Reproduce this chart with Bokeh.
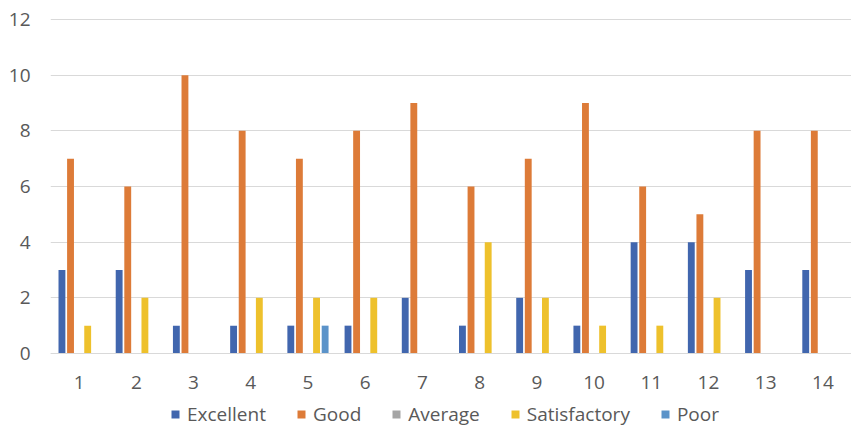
from bokeh.plotting import figure
from bokeh.models import (ColumnDataSource, FactorRange, Range1d, Legend, LegendItem,
                          FixedTicker, CategoricalAxis)
from bokeh.transform import dodge
from bokeh.embed import file_html
from bokeh.resources import INLINE

categories = [str(i) for i in range(1, 15)]
excellent = [3, 3, 1, 1, 1, 1, 2, 1, 2, 1, 4, 4, 3, 3]
good = [7, 6, 10, 8, 7, 8, 9, 6, 7, 9, 6, 5, 8, 8]
average = [0] * 14
satisfactory = [1, 2, 0, 2, 2, 2, 0, 4, 2, 1, 1, 2, 0, 0]
poor = [0, 0, 0, 0, 1, 0, 0, 0, 0, 0, 0, 0, 0, 0]
y_ticks = [0, 2, 4, 6, 8, 10, 12]

series = [
    ("Excellent", "excellent", "#4166AE"),
    ("Good", "good", "#DD7B38"),
    ("Average", "average", "#A5A5A5"),
    ("Satisfactory", "satisfactory", "#EEC12C"),
    ("Poor", "poor", "#5B93C9"),
]

source = ColumnDataSource(dict(cat=categories, excellent=excellent, good=good,
                               average=average, satisfactory=satisfactory, poor=poor))

FONT = "Open Sans"
TXT = "#595959"

# frame spans from just above the top gridline to the figure bottom;
# the part below zero holds the category labels and the legend
p = figure(x_range=FactorRange(*categories, range_padding=0, start=0, end=13.8),
           y_range=Range1d(-2.659, 12.036),
           width=851, height=427, output_backend="svg", toolbar_location=None,
           x_axis_location=None,
           min_border_left=50, min_border_right=0, min_border_top=18, min_border_bottom=0)
p.outline_line_color = None
p.background_fill_color = "white"
p.border_fill_color = "white"

offsets = [-0.3, -0.15, 0.0, 0.15, 0.3]
items = []
for (label, col, color), off in zip(series, offsets):
    r = p.vbar(x=dodge("cat", off, range=p.x_range), top=col, width=0.12, source=source,
               fill_color=color, line_color=None)
    items.append(LegendItem(label=label, renderers=[r]))

xaxis = CategoricalAxis(fixed_location=0)
p.add_layout(xaxis, "below")

p.xgrid.grid_line_color = None
p.ygrid.grid_line_color = "#D9D9D9"
p.ygrid.grid_line_width = 1
p.yaxis.ticker = FixedTicker(ticks=y_ticks)

for ax in (xaxis, p.yaxis[0]):
    ax.major_tick_line_color = None
    ax.minor_tick_line_color = None
    ax.major_label_text_color = TXT
    ax.major_label_text_font = FONT
    ax.major_label_text_font_size = "19px"

p.yaxis.axis_line_color = None
p.yaxis.major_label_standoff = 14
xaxis.axis_line_color = "#D9D9D9"
xaxis.major_label_standoff = 17

legend = Legend(items=items, orientation="horizontal", location=(120, 0),
                label_text_font=FONT, label_text_font_size="19px", label_text_color=TXT,
                glyph_width=10, glyph_height=10, label_standoff=7, spacing=30,
                padding=0, margin=0, border_line_color=None, background_fill_alpha=0)
p.add_layout(legend)

open("out.html", "w").write(file_html(p, INLINE))
